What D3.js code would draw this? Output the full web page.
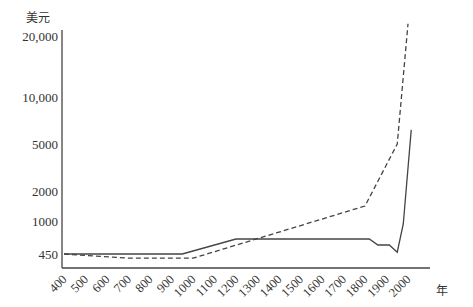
<head>
  <style>
    body { margin: 0; background: #fff; }
    svg text { fill: #333; }
  </style>
  <script src="https://d3js.org/d3.v7.min.js"></script>
</head>
<body>
  <svg id="svg" width="473" height="307"></svg>
  <script>
    // y ticks, hand-spaced in the original, so the scale is piecewise
    let yTicks = [450, 1000, 2000, 5000, 10000, 20000];
    let yTickLabels = ["450", "1000", "2000", "5000", "10,000", "20,000"];
    let xTicks = [400, 500, 600, 700, 800, 900, 1000, 1100, 1200, 1300, 1400, 1500, 1600, 1700, 1800, 1900, 2000];

    // solid line
    let solidYears = [400, 950, 1200, 1820, 1860, 1913, 1950, 1978, 2015];
    let solidValues = [450, 450, 700, 700, 600, 600, 480, 950, 6500];

    // dashed line
    let dashYears = [400, 700, 1000, 1800, 1950, 2000];
    let dashValues = [450, 380, 380, 1500, 5000, 22000];

    let svg = d3.select("#svg");
    let x = d3.scaleLinear().domain([400, 2000]).range([64, 408]);
    let y = d3.scaleLinear().domain(yTicks).range([254, 221, 191, 144, 97, 36]);

    let ink = "#444";

    // axes lines
    svg.append("line")
      .attr("x1", 62).attr("x2", 62).attr("y1", 30).attr("y2", 268)
      .attr("stroke", ink).attr("stroke-width", 1.3);
    svg.append("line")
      .attr("x1", 62).attr("x2", 430).attr("y1", 268).attr("y2", 268)
      .attr("stroke", ink).attr("stroke-width", 1.3);

    let yAxis = svg.append("g")
      .attr("transform", "translate(62,0)")
      .call(d3.axisLeft(y).tickValues(yTicks).tickSize(0).tickPadding(4)
        .tickFormat(function (d, i) { return yTickLabels[i]; }));
    yAxis.select(".domain").remove();
    yAxis.selectAll("text")
      .style("font-family", "'Liberation Serif', serif")
      .style("font-size", "13px")
      .attr("fill", "#333");

    let xAxis = svg.append("g")
      .attr("transform", "translate(0,268)")
      .call(d3.axisBottom(x).tickValues(xTicks).tickSize(0).tickFormat(function (d) { return d; }));
    xAxis.select(".domain").remove();
    xAxis.selectAll("text")
      .style("font-family", "'Liberation Serif', serif")
      .style("font-size", "12.5px")
      .attr("fill", "#333")
      .attr("text-anchor", "end")
      .attr("x", 0).attr("y", 0).attr("dy", "0")
      .attr("transform", "translate(3,12) rotate(-45)");

    let line = d3.line()
      .x(function (d) { return x(d[0]); })
      .y(function (d) { return y(d[1]); });

    svg.append("path")
      .datum(solidYears.map(function (d, i) { return [d, solidValues[i]]; }))
      .attr("d", line)
      .attr("fill", "none")
      .attr("stroke", ink)
      .attr("stroke-width", 1.3);

    svg.append("path")
      .datum(dashYears.map(function (d, i) { return [d, dashValues[i]]; }))
      .attr("d", line)
      .attr("fill", "none")
      .attr("stroke", ink)
      .attr("stroke-width", 1.3)
      .attr("stroke-dasharray", "5,3");

    svg.append("text")
      .attr("x", 38).attr("y", 22)
      .attr("text-anchor", "middle")
      .style("font-family", "'Noto Sans CJK SC', sans-serif")
      .style("font-size", "12px")
      .attr("fill", "#333")
      .text("美元");

    svg.append("text")
      .attr("x", 442).attr("y", 295)
      .attr("text-anchor", "middle")
      .style("font-family", "'Noto Sans CJK SC', sans-serif")
      .style("font-size", "12px")
      .attr("fill", "#333")
      .text("年");
  </script>
</body>
